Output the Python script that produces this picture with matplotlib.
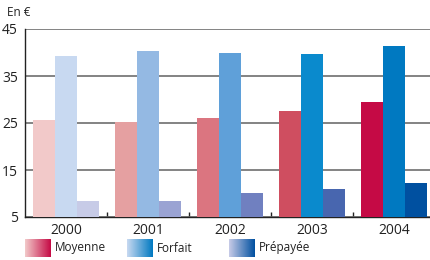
import matplotlib.pyplot as plt
import numpy as np
from matplotlib.colors import LinearSegmentedColormap

years = ["2000", "2001", "2002", "2003", "2004"]
moyenne = [25.7, 25.2, 26.1, 27.6, 29.5]
forfait = [39.3, 40.3, 40.0, 39.7, 41.4]
prepayee = [8.3, 8.5, 10.2, 11.0, 12.3]

col_moy = ["#F2C9C9", "#E5A0A1", "#DB7580", "#CF4E60", "#C50A45"]
col_for = ["#C8D9F1", "#94B9E3", "#5FA0D9", "#0A8ACD", "#0079C1"]
col_pre = ["#C7CBE7", "#9AA3D3", "#7080C0", "#4866AF", "#0050A0"]

plt.rcParams['font.family'] = ['Open Sans', 'DejaVu Sans']

fig = plt.figure(figsize=(4.31, 2.60), dpi=100)
ax = fig.add_axes([25 / 431, 43 / 260, 410 / 431, 188 / 260])

x = np.arange(len(years))
w = 0.268
ax.bar(x - w, [v - 5 for v in moyenne], w, bottom=5, color=col_moy, zorder=3)
ax.bar(x, [v - 5 for v in forfait], w, bottom=5, color=col_for, zorder=3)
ax.bar(x + w, [v - 5 for v in prepayee], w, bottom=5, color=col_pre, zorder=3)

ax.set_xlim(-0.5, 4.5)
ax.set_ylim(5, 45)
ax.set_yticks([5, 15, 25, 35, 45])
ax.yaxis.grid(True, color="#6e6e6e", linewidth=1.2, zorder=0)
ax.set_axisbelow(True)
ax.tick_params(axis="y", length=0, pad=5, labelsize=10, colors="#222222")
ax.set_xticks(x)
ax.set_xticklabels(years)
ax.tick_params(axis="x", which="major", length=0, pad=4, labelsize=10, colors="#222222")
ax.set_xticks([0.5, 1.5, 2.5, 3.5], minor=True)
ax.tick_params(axis="x", which="minor", direction="in", length=3.5, width=1, color="#222222")

for s in ["top", "right"]:
    ax.spines[s].set_visible(False)
ax.spines["left"].set_color("#222222")
ax.spines["bottom"].set_color("#222222")
ax.spines["left"].set_linewidth(1)
ax.spines["bottom"].set_linewidth(1)

fig.text(7 / 431, 1 - 13 / 260, "En €", fontsize=8.5, va="center", ha="left", color="#222222")

# legend with gradient boxes
legend = [("Moyenne", col_moy, 25), ("Forfait", col_for, 127), ("Prépayée", col_pre, 229)]
grad = np.linspace(0, 1, 100).reshape(1, -1)
for name, cols, px in legend:
    cax = fig.add_axes([px / 431, (260 - 257) / 260, 26 / 431, 18 / 260])
    cmap = LinearSegmentedColormap.from_list(name, [cols[0], cols[-1]])
    cax.imshow(grad, aspect="auto", cmap=cmap)
    cax.axis("off")
    fig.text((px + 30) / 431, (260 - 248) / 260, name, fontsize=8.5, va="center", ha="left", color="#222222")

fig.savefig("out.png", dpi=100)
